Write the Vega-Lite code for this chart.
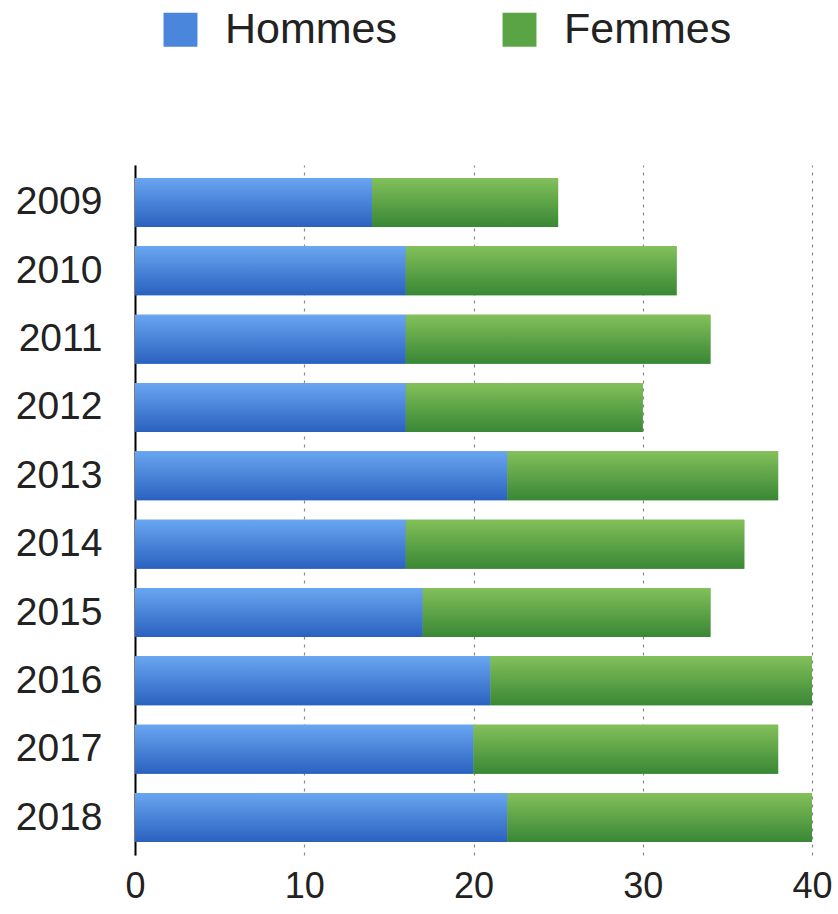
{
  "$schema": "https://vega.github.io/schema/vega-lite/v6.json",
  "width": 677,
  "height": 690,
  "autosize": {"type": "none"},
  "padding": {"left": 135, "top": 165, "right": 26, "bottom": 59},
  "background": "white",
  "config": {
    "view": {"stroke": null},
    "font": "Liberation Sans"
  },
  "data": {
    "values": [
      {"year": "2009", "sex": "Hommes", "value": 14}, {"year": "2009", "sex": "Femmes", "value": 11},
      {"year": "2010", "sex": "Hommes", "value": 16}, {"year": "2010", "sex": "Femmes", "value": 16},
      {"year": "2011", "sex": "Hommes", "value": 16}, {"year": "2011", "sex": "Femmes", "value": 18},
      {"year": "2012", "sex": "Hommes", "value": 16}, {"year": "2012", "sex": "Femmes", "value": 14},
      {"year": "2013", "sex": "Hommes", "value": 22}, {"year": "2013", "sex": "Femmes", "value": 16},
      {"year": "2014", "sex": "Hommes", "value": 16}, {"year": "2014", "sex": "Femmes", "value": 20},
      {"year": "2015", "sex": "Hommes", "value": 17}, {"year": "2015", "sex": "Femmes", "value": 17},
      {"year": "2016", "sex": "Hommes", "value": 21}, {"year": "2016", "sex": "Femmes", "value": 19},
      {"year": "2017", "sex": "Hommes", "value": 20}, {"year": "2017", "sex": "Femmes", "value": 18},
      {"year": "2018", "sex": "Hommes", "value": 22}, {"year": "2018", "sex": "Femmes", "value": 18}
    ]
  },
  "transform": [
    {"stack": "value", "groupby": ["year"], "sort": [{"field": "sex", "order": "descending"}], "as": ["v0", "v1"]}
  ],
  "encoding": {
    "y": {
      "field": "year", "type": "nominal", "sort": "ascending",
      "scale": {"paddingInner": 0.283, "paddingOuter": 0.19},
      "axis": {
        "title": null, "ticks": false, "domain": true, "domainColor": "#000000", "domainWidth": 2,
        "labelFontSize": 39, "labelColor": "#222222", "labelPadding": 33, "grid": false
      }
    },
    "x": {
      "field": "v0", "type": "quantitative",
      "scale": {"domain": [0, 40], "nice": false},
      "axis": {
        "title": null, "values": [0, 10, 20, 30, 40], "ticks": false, "domain": false,
        "labelFontSize": 36, "labelColor": "#222222", "labelPadding": 14,
        "grid": true, "gridColor": "#8a8a8a", "gridDash": [3, 5], "gridWidth": 1.2,
        "labelFlush": false
      }
    },
    "x2": {"field": "v1"}
  },
  "layer": [
    {
      "mark": {"type": "bar"},
      "encoding": {
        "color": {
          "field": "sex", "type": "nominal",
          "scale": {"domain": ["Hommes", "Femmes"], "range": ["#4a86dc", "#5aa445"]},
          "legend": {
            "title": null, "orient": "none", "direction": "horizontal",
            "legendX": 24, "legendY": -157,
            "symbolType": "square", "symbolSize": 1150, "symbolStrokeWidth": 0,
            "labelFontSize": 43, "labelColor": "#222222", "labelOffset": 23, "labelLimit": 400,
            "columnPadding": 100, "symbolOpacity": 1
          }
        }
      }
    },
    {
      "transform": [{"filter": "datum.sex === 'Hommes'"}],
      "mark": {
        "type": "bar",
        "color": {"gradient": "linear", "x1": 0, "y1": 0, "x2": 0, "y2": 1, "stops": [{"offset": 0, "color": "#69a6f1"}, {"offset": 1, "color": "#2a61bf"}]}
      }
    },
    {
      "transform": [{"filter": "datum.sex === 'Femmes'"}],
      "mark": {
        "type": "bar",
        "color": {"gradient": "linear", "x1": 0, "y1": 0, "x2": 0, "y2": 1, "stops": [{"offset": 0, "color": "#83c05a"}, {"offset": 1, "color": "#398735"}]}
      }
    }
  ]
}
